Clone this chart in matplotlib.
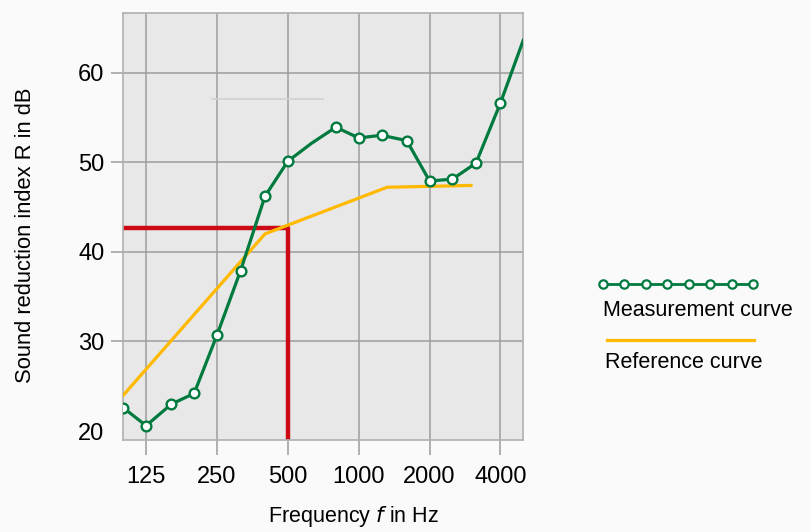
import matplotlib.pyplot as plt

# third-octave band centre frequencies (Hz) and the measured R values (dB)
freqs = [100, 125, 160, 200, 250, 315, 400, 500, 630, 800, 1000, 1250,
         1600, 2000, 2500, 3150, 4000, 5000]
measured = [22.6, 20.6, 23.0, 24.2, 30.7, 37.9, 46.2, 50.1, 52.1, 53.9,
            52.7, 53.0, 52.4, 47.9, 48.1, 49.9, 56.6, 63.6]
no_marker = [630, 5000]

# shifted reference curve
ref_freqs = [100, 400, 1320, 3000]
ref_values = [24.0, 42.0, 47.2, 47.4]

# weighted index read-off at 500 Hz
rw_freq = 500
rw_value = 42.7

# faint stray line in the upper part of the plot
faint_freqs = [238, 708]
faint_values = [57.0, 57.0]

xticks = [125, 250, 500, 1000, 2000, 4000]
yticks = [20, 30, 40, 50, 60]

GREEN = "#007a3e"
YELLOW = "#ffb900"
RED = "#cc0a16"
GRID = "#9d9d9d"

plt.rcParams["font.family"] = ["Liberation Sans", "DejaVu Sans"]

fig = plt.figure(figsize=(8.11, 5.32), dpi=100, facecolor="#fafafa")
ax = fig.add_axes([0.152, 0.1729, 0.4932, 0.802])
ax.set_facecolor("#e8e8e8")

ax.set_xscale("log")
ax.set_xlim(100, 5000)
ax.set_ylim(19.0, 66.6)

ax.set_xticks(xticks)
ax.set_xticklabels([str(t) for t in xticks])
ax.xaxis.set_minor_locator(plt.NullLocator())
ax.set_yticks(yticks)
ax.set_yticklabels([str(t) for t in yticks])

ax.grid(True, color=GRID, lw=1.1, zorder=0)
ax.set_axisbelow(True)
for sp in ax.spines.values():
    sp.set_color("#b0b0b0")
    sp.set_linewidth(1.2)
ax.tick_params(axis="x", length=10.5, width=1.1, color=GRID, pad=8,
               labelsize=17)
ax.tick_params(axis="y", length=8.5, width=1.1, color=GRID, pad=5,
               labelsize=17)
# no grid line / tick at 20 dB
ax.yaxis.get_major_ticks()[0].tick1line.set_visible(False)
ax.yaxis.get_major_ticks()[0].gridline.set_visible(False)

ax.plot(faint_freqs, faint_values, color="#d2d2d2", lw=1.2, zorder=1)

# read-off lines for the weighted index
ax.plot([100, rw_freq, rw_freq], [rw_value, rw_value, 19.0], color=RED,
        lw=3.2, solid_capstyle="butt", zorder=2)

ax.plot(ref_freqs, ref_values, color=YELLOW, lw=2.3, zorder=3)

marks = [i for i, f in enumerate(freqs) if f not in no_marker]
ax.plot(freqs, measured, color=GREEN, lw=2.3, marker="o", markevery=marks,
        ms=7, mfc="white", mec=GREEN, mew=1.7, zorder=4)

ax.set_xlabel("Frequency $f$ in Hz", fontsize=15.5)
ax.xaxis.set_label_coords(0.575, -0.15)
ax.set_ylabel("Sound reduction index R in dB", fontsize=15.8)
ax.yaxis.set_label_coords(-0.218, 0.48)

# hand-drawn legend: sample line above its text
lx0, lx1 = 603 / 811, 753 / 811
fig.add_artist(plt.Line2D([lx0 + (lx1 - lx0) * k / 7 for k in range(8)],
                          [1 - 284 / 532] * 8, color=GREEN, lw=2.0,
                          marker="o", ms=6, mfc="white", mec=GREEN, mew=1.6))
fig.text(603 / 811, 1 - 310 / 532, "Measurement curve", fontsize=15.5,
         va="center", ha="left")
fig.add_artist(plt.Line2D([607 / 811, 754 / 811], [1 - 340 / 532] * 2,
                          color=YELLOW, lw=2.3))
fig.text(605 / 811, 1 - 362 / 532, "Reference curve", fontsize=15.5,
         va="center", ha="left")

fig.savefig("out.png", dpi=100, facecolor=fig.get_facecolor())
